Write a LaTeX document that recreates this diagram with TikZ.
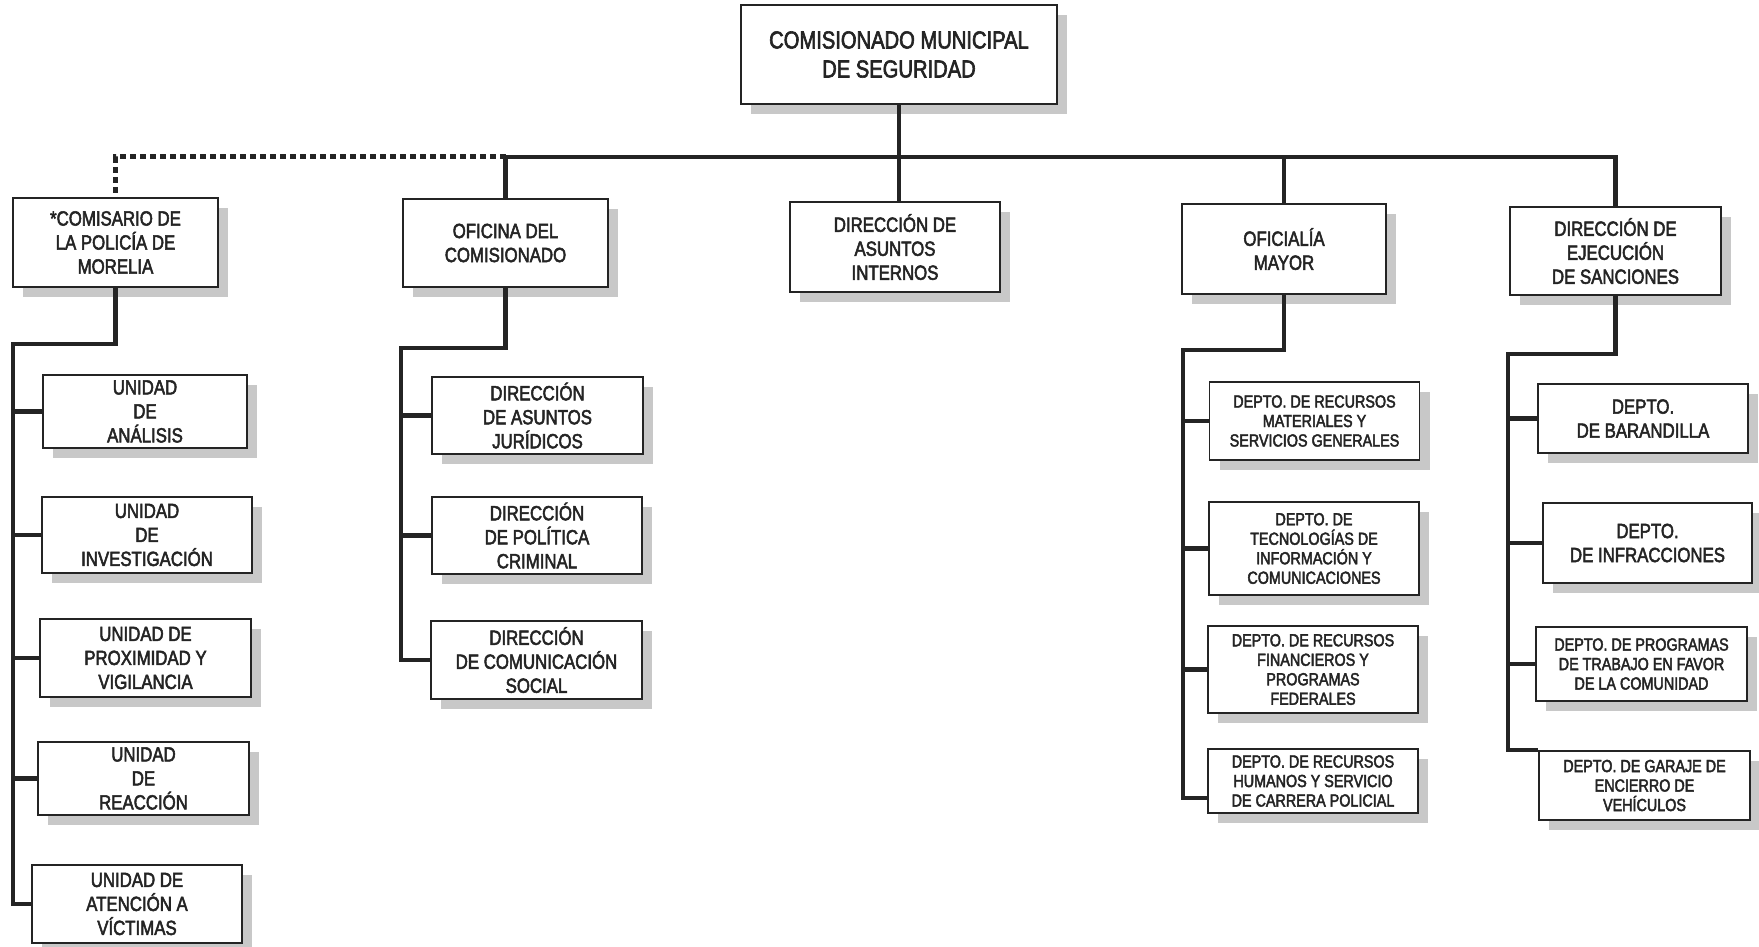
\documentclass[tikz,border=0pt]{standalone}
\usepackage{fontspec}
\setmainfont{Liberation Sans}[FakeStretch=0.82,FakeBold=2.5]
\usetikzlibrary{shadows}
\definecolor{ink}{HTML}{242424}
\definecolor{shade}{HTML}{C8C8C8}

\begin{document}
\begin{tikzpicture}[x=1pt,y=-1pt,
    box/.style={draw=ink,line width=1.8pt,fill=white,align=center,inner sep=0pt,text=ink,
      drop shadow={shadow xshift=10pt,shadow yshift=-10pt,fill=shade,opacity=1}},
    sz/.style 2 args={minimum width=#1pt,minimum height=#2pt},
    big/.style={font=\fontsize{24.6}{29}\selectfont},
    mid/.style={font=\fontsize{20.5}{24}\selectfont},
    small/.style={font=\fontsize{17.5}{19.5}\selectfont},
    link/.style={draw=ink,line width=4.5pt},
    dots/.style={draw=ink,line width=5pt,dash pattern=on 6pt off 4pt}]

      \fill[white] (0,0) rectangle (1759,947);
      \useasboundingbox (0,0) rectangle (1759,947);

      \begin{scope}[every node/.style={box,mid}]
        \node[big,sz={316}{99}] (cms) at (899,54.5)  {COMISIONADO MUNICIPAL\\DE SEGURIDAD};

        \node[sz={205}{89}] (com) at (115.5,242.5) {*COMISARIO DE\\LA POLICÍA DE\\MORELIA};
        \node[sz={205}{88}] (ofc) at (505.5,243)   {OFICINA DEL\\COMISIONADO};
        \node[sz={210}{90}] (dai) at (895,247)     {DIRECCIÓN DE\\ASUNTOS\\INTERNOS};
        \node[sz={204}{90}] (ofm) at (1284,249)    {OFICIALÍA\\MAYOR};
        \node[sz={211}{88}] (des) at (1615.5,251)  {DIRECCIÓN DE\\EJECUCIÓN\\DE SANCIONES};

        \node[sz={204}{73}] (ana) at (145,411.5)   {UNIDAD\\DE\\ANÁLISIS};
        \node[sz={210}{76}] (inv) at (147,535)     {UNIDAD\\DE\\INVESTIGACIÓN};
        \node[sz={211}{78}] (pro) at (145.5,658)   {UNIDAD DE\\PROXIMIDAD Y\\VIGILANCIA};
        \node[sz={211}{73}] (rea) at (143.5,778.5) {UNIDAD\\DE\\REACCIÓN};
        \node[sz={210}{78}] (vic) at (137,904)     {UNIDAD DE\\ATENCIÓN A\\VÍCTIMAS};

        \node[sz={211}{77}] (jur) at (537.5,415.5) {DIRECCIÓN\\DE ASUNTOS\\JURÍDICOS};
        \node[sz={210}{77}] (pol) at (537,535.5)   {DIRECCIÓN\\DE POLÍTICA\\CRIMINAL};
        \node[sz={211}{78}] (soc) at (536.5,660)   {DIRECCIÓN\\DE COMUNICACIÓN\\SOCIAL};

        \node[small,sz={210}{78}] (mat) at (1314.5,421) {DEPTO. DE RECURSOS\\MATERIALES Y\\SERVICIOS GENERALES};
        \node[small,sz={210}{93}] (tec) at (1314,548.5) {DEPTO. DE\\TECNOLOGÍAS DE\\INFORMACIÓN Y\\COMUNICACIONES};
        \node[small,sz={210}{87}] (fin) at (1313,669.5) {DEPTO. DE RECURSOS\\FINANCIEROS Y\\PROGRAMAS\\FEDERALES};
        \node[small,sz={210}{64}] (hum) at (1313,781)   {DEPTO. DE RECURSOS\\HUMANOS Y SERVICIO\\DE CARRERA POLICIAL};

        \node[sz={210}{69}] (bar) at (1643,418.5)       {DEPTO.\\DE BARANDILLA};
        \node[sz={209}{80}] (inf) at (1647.5,543)       {DEPTO.\\DE INFRACCIONES};
        \node[small,sz={211}{74}] (prg) at (1641.5,664) {DEPTO. DE PROGRAMAS\\DE TRABAJO EN FAVOR\\DE LA COMUNIDAD};
        \node[small,sz={211}{69}] (gar) at (1644.5,785.5) {DEPTO. DE GARAJE DE\\ENCIERRO DE\\VEHÍCULOS};
      \end{scope}

      \coordinate (bus)  at (0,157);
      \coordinate (comS) at (13,344);
      \coordinate (ofcS) at (401,348);
      \coordinate (ofmS) at (1183,350);
      \coordinate (desS) at (1508,354);

      \draw[link] (cms.south) -- (cms.south |- dai.north);
      \draw[link] (ofc.north) |- (bus -| des.north) -- (des.north);
      \draw[link] (ofm.north) -- (ofm.north |- bus);
      \draw[dots] (ofc.north |- bus) -| (com.north);

      \draw[link] (com.south) |- (comS) |- (vic.west);
      \foreach \n in {ana,inv,pro,rea}
        \draw[link] (\n.west) -- (\n.west -| comS);

      \draw[link] (ofc.south) |- (ofcS) |- (soc.west);
      \foreach \n in {jur,pol}
        \draw[link] (\n.west) -- (\n.west -| ofcS);

      \draw[link] (ofm.south) |- (ofmS) |- ([yshift=16pt]hum.south west);
      \foreach \n in {mat,tec,fin}
        \draw[link] (\n.west) -- (\n.west -| ofmS);

      \draw[link] (des.south) |- (desS) |- (gar.north west);
      \foreach \n in {bar,inf,prg}
        \draw[link] (\n.west) -- (\n.west -| desS);

    \end{tikzpicture}
\end{document}
